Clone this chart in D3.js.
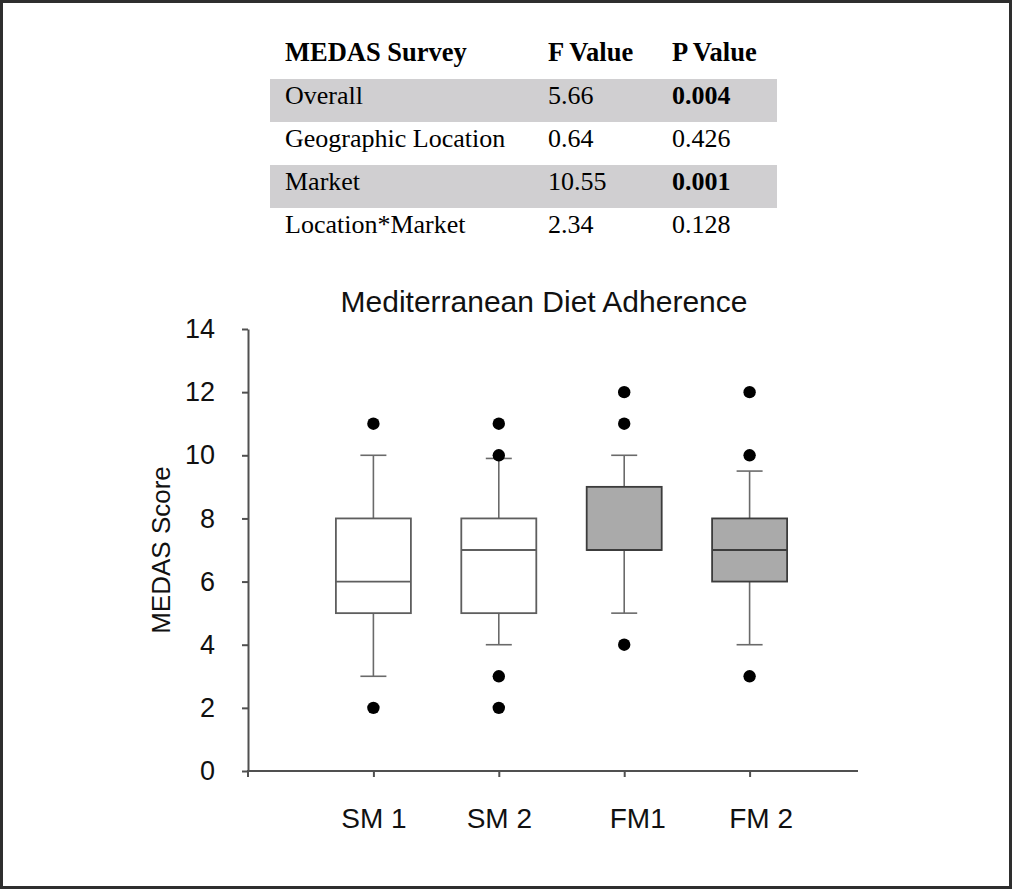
<!DOCTYPE html>
<html>
<head>
<meta charset="utf-8">
<script src="https://cdn.jsdelivr.net/npm/d3@7"></script>
<style>
  body { margin: 0; background: #fff; }
  svg { display: block; }
</style>
</head>
<body>
<div class="chart-area"></div>
<script>
// table values
let tableHeader = ["MEDAS Survey", "F Value", "P Value"];
let effects = ["Overall", "Geographic Location", "Market", "Location*Market"];
let fValues = ["5.66", "0.64", "10.55", "2.34"];
let pValues = ["0.004", "0.426", "0.001", "0.128"];

// box plot values (MEDAS score)
let categories = ["SM 1", "SM 2", "FM1", "FM 2"];
let marketType = ["SM", "SM", "FM", "FM"];
let whiskerLow = [3, 4, 5, 4];
let q1 = [5, 5, 7, 6];
let median = [6, 7, 7, 7];
let q3 = [8, 8, 9, 8];
let whiskerHigh = [10, 9.9, 10, 9.5];
let outliers = [[11, 2], [11, 10, 3, 2], [12, 11, 4], [12, 10, 3]];
let yTicks = [0, 2, 4, 6, 8, 10, 12, 14];

let outerWidth = 1013, outerHeight = 890;

let svg = d3.select('.chart-area').append('svg')
    .attr('width', outerWidth)
    .attr('height', outerHeight)

// frame round the whole figure
svg.append("rect")
    .attr("x", 1.5).attr("y", 1.5)
    .attr("width", 1009).attr("height", 886)
    .attr("fill", "none")
    .attr("stroke", "#2e2e2e")
    .attr("stroke-width", 3)

// ---- table ----
let rows = effects.map((e, i) => ({effect: e, f: fValues[i], p: pValues[i], sig: +pValues[i] < 0.05}));

let rowScale = d3.scaleBand()
    .domain(d3.range(rows.length + 1))
    .range([36, 251])

let colX = [285, 548, 672];

let table = svg.append("g").attr("font-family", "'Liberation Serif', 'Times New Roman', serif").attr("font-size", 26)

table.selectAll("rect.band")
    .data(rows)
    .enter()
    .append("rect")
    .attr("class", "band")
    .attr("x", 270)
    .attr("width", 507)
    .attr("y", (d, i) => rowScale(i + 1))
    .attr("height", rowScale.bandwidth())
    .attr("fill", d => d.sig ? "#d0cfd1" : "none")

table.selectAll("text.head")
    .data(tableHeader)
    .enter()
    .append("text")
    .attr("class", "head")
    .attr("x", (d, i) => colX[i])
    .attr("y", rowScale(0) + 25)
    .attr("font-weight", "bold")
    .attr("font-size", 26.5)
    .text(d => d)

rows.forEach((r, i) => {
    let y = rowScale(i + 1) + 25;
    table.append("text").attr("x", colX[0]).attr("y", y).text(r.effect)
    table.append("text").attr("x", colX[1]).attr("y", y).text(r.f)
    table.append("text").attr("x", colX[2]).attr("y", y)
        .attr("font-weight", r.sig ? "bold" : "normal")
        .text(r.p)
});

// ---- box plot ----
let data = categories.map((c, i) => ({
    cat: c, type: marketType[i], lo: whiskerLow[i], q1: q1[i], med: median[i],
    q3: q3[i], hi: whiskerHigh[i], out: outliers[i]
}));

xScale = d3.scalePoint()
    .domain(categories)
    .range([248, 875])
    .padding(1)

yScale = d3.scaleLinear()
    .domain([0, 14])
    .range([771, 329])

let fillScale = d3.scaleOrdinal().domain(["SM", "FM"]).range(["#ffffff", "#aaaaaa"]);
let strokeScale = d3.scaleOrdinal().domain(["SM", "FM"]).range(["#5e5e5e", "#3c3c3c"]);

let plot = svg.append("g").attr("font-family", "'Liberation Sans', Arial, sans-serif")

plot.append("text")
    .attr("x", 544)
    .attr("y", 312)
    .attr("text-anchor", "middle")
    .attr("font-size", 30)
    .attr("fill", "#111")
    .text("Mediterranean Diet Adherence")

let tickNudge = {"FM1": 13, "FM 2": 11};

let xAxis = d3.axisBottom(xScale).tickSize(6).tickSizeOuter(0).tickPadding(31);
let yAxis = d3.axisLeft(yScale).tickValues(yTicks).tickSize(6).tickSizeOuter(0).tickPadding(27);

let xaxis = plot.append("g")
    .attr("class", "axis x-axis")
    .attr("transform", `translate(0, ${yScale(0)})`)
    .call(xAxis)

// axis line stops short of the scale's right padding, with a small tick at the corner
xaxis.select(".domain").attr("d", "M248,6V0H858")

let yaxis = plot.append("g")
    .attr("class", "axis y-axis")
    .attr("transform", `translate(248, 0)`)
    .call(yAxis)

plot.selectAll(".axis path, .axis line")
    .attr("stroke", "#505050")
    .attr("stroke-width", 2)

xaxis.selectAll(".tick text")
    .attr("font-size", 28)
    .attr("fill", "#111")
    .attr("font-family", "'Liberation Sans', Arial, sans-serif")
    .attr("dx", d => tickNudge[d] || 0)

yaxis.selectAll(".tick text")
    .attr("font-size", 27)
    .attr("fill", "#111")
    .attr("font-family", "'Liberation Sans', Arial, sans-serif")

plot.append("text")
    .attr("transform", "translate(170, 550) rotate(-90)")
    .attr("text-anchor", "middle")
    .attr("font-size", 26)
    .attr("fill", "#111")
    .text("MEDAS Score")

let boxW = 75, capW = 26;

let boxes = plot.selectAll("g.box")
    .data(data)
    .enter()
    .append("g")
    .attr("class", "box")
    .attr("transform", d => `translate(${xScale(d.cat)}, 0)`)

// whiskers
boxes.append("line")
    .attr("x1", 0).attr("x2", 0)
    .attr("y1", d => yScale(d.hi)).attr("y2", d => yScale(d.q3))
    .attr("stroke", "#6a6a6a").attr("stroke-width", 1.6)
boxes.append("line")
    .attr("x1", 0).attr("x2", 0)
    .attr("y1", d => yScale(d.q1)).attr("y2", d => yScale(d.lo))
    .attr("stroke", "#6a6a6a").attr("stroke-width", 1.6)
boxes.append("line")
    .attr("x1", -capW / 2).attr("x2", capW / 2)
    .attr("y1", d => yScale(d.hi)).attr("y2", d => yScale(d.hi))
    .attr("stroke", "#6a6a6a").attr("stroke-width", 1.6)
boxes.append("line")
    .attr("x1", -capW / 2).attr("x2", capW / 2)
    .attr("y1", d => yScale(d.lo)).attr("y2", d => yScale(d.lo))
    .attr("stroke", "#6a6a6a").attr("stroke-width", 1.6)

// box
boxes.append("rect")
    .attr("x", -boxW / 2)
    .attr("width", boxW)
    .attr("y", d => yScale(d.q3))
    .attr("height", d => yScale(d.q1) - yScale(d.q3))
    .attr("fill", d => fillScale(d.type))
    .attr("stroke", d => strokeScale(d.type))
    .attr("stroke-width", 1.8)

// median
boxes.append("line")
    .attr("x1", -boxW / 2).attr("x2", boxW / 2)
    .attr("y1", d => yScale(d.med)).attr("y2", d => yScale(d.med))
    .attr("stroke", d => strokeScale(d.type))
    .attr("stroke-width", 1.8)

// outliers
boxes.selectAll("circle")
    .data(d => d.out)
    .enter()
    .append("circle")
    .attr("cx", 0)
    .attr("cy", d => yScale(d))
    .attr("r", 6.2)
    .attr("fill", "#000")
</script>
</body>
</html>
